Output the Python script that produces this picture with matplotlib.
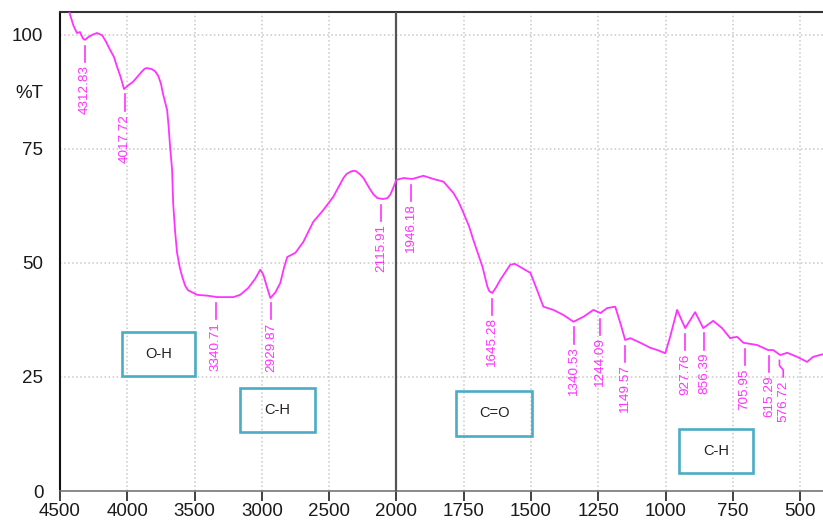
import numpy as np
import matplotlib
matplotlib.use('Agg')
import matplotlib.pyplot as plt
from matplotlib.patches import Rectangle

plt.rcParams['font.family'] = ['Liberation Sans', 'DejaVu Sans']

# FTIR spectrum, wavenumber (cm-1) vs transmittance (%T)
wavenumber = [4440, 4426, 4400, 4374, 4351, 4330, 4314, 4290, 4260, 4225, 4187, 4160,
              4128, 4100, 4076, 4050, 4024, 3990, 3957, 3925, 3890, 3870, 3853, 3820,
              3793, 3770, 3750, 3734, 3704, 3693, 3682, 3667, 3659, 3645, 3630, 3610,
              3592, 3570, 3548, 3481, 3400, 3332, 3212, 3161, 3101, 3050, 3012, 2990,
              2975, 2937, 2900, 2863, 2835, 2811, 2751, 2692, 2618, 2543, 2469, 2394,
              2370, 2340, 2320, 2300, 2270, 2245, 2193, 2170, 2141, 2100, 2067, 2045,
              2030, 2000, 1974, 1941, 1900, 1863, 1825, 1788, 1770, 1751, 1730, 1714,
              1680, 1662, 1655, 1644, 1630, 1614, 1577, 1560, 1540, 1502, 1477, 1454,
              1417, 1380, 1342, 1305, 1268, 1242, 1217, 1187, 1168, 1150, 1131, 1094,
              1057, 1031, 1001, 983, 957, 946, 927, 890, 860, 823, 790, 760,
              734, 711, 660, 619, 600, 574, 548, 511, 474, 452, 415]
transmittance = [106, 104.5, 102, 100.4, 100.6, 99.2, 98.9, 99.5, 100, 100.4, 99.9, 98.6,
                 96.7, 95.2, 93, 90.8, 88.1, 89, 89.7, 90.8, 92, 92.6, 92.7, 92.5,
                 92, 91, 89.3, 87, 83.5, 80, 75.5, 70.4, 63.1, 57, 52.2, 49,
                 47, 45, 44, 43, 42.8, 42.5, 42.5, 43, 44.5, 46.5, 48.5, 47.5,
                 46, 42.3, 43.5, 45.6, 49, 51.3, 52.2, 54.6, 59, 61.6, 64.5, 68.6,
                 69.5, 70, 70.2, 70.1, 69.4, 68.6, 66, 65, 64.2, 64, 64.2, 65,
                 66, 68.2, 68.6, 68.4, 69.1, 68.4, 67.8, 65.3, 63.5, 61, 58, 55,
                 49.1, 44.8, 43.8, 43.4, 44.6, 46.3, 49.6, 49.8, 49.1, 47.8, 44, 40.4,
                 39.7, 38.6, 37.1, 38.2, 39.7, 39, 40.1, 40.4, 36.8, 33.1, 33.5, 32.5,
                 31.4, 30.9, 30.2, 33.8, 39.7, 38.2, 35.7, 39.2, 35.7, 37.3, 35.7, 33.5,
                 33.8, 32.5, 32, 30.9, 30.9, 29.8, 30.3, 29.4, 28.3, 29.4, 30]

peaks = [4312.83, 4017.72, 3340.71, 2929.87, 2115.91, 1946.18, 1645.28, 1340.53,
         1244.09, 1149.57, 927.76, 856.39, 705.95, 615.29, 576.72]
# labels nudged sideways (cm-1) where they would collide
nudge = {576.72: -14}

# functional group boxes: label, (wn left, wn right), (%T bottom, %T top)
groups = ['O-H', 'C-H', 'C=O', 'C-H']
group_wn = [(4040, 3495), (3161, 2603), (1777, 1495), (949, 674)]
group_t = [(25.2, 34.9), (12.9, 22.6), (12.1, 21.9), (3.9, 13.6)]

xticks = [4500, 4000, 3500, 3000, 2500, 2000, 1750, 1500, 1250, 1000, 750, 500]
yticks = [0, 25, 50, 75, 100]


# above 2000 cm-1 the axis is compressed by half
def fwd(x):
    x = np.asarray(x, dtype=float)
    return np.where(x >= 2000, 2000 + (x - 2000) / 2, x)


def inv(y):
    y = np.asarray(y, dtype=float)
    return np.where(y >= 2000, 2000 + 2 * (y - 2000), y)


pink = '#ff33ff'
fig = plt.figure(figsize=(8.23, 5.24), dpi=100)
ax = fig.add_axes([60 / 823, 33 / 524, 763 / 823, 479 / 524])
ax.set_xscale('function', functions=(fwd, inv))
ax.set_xlim(4500, 415)
ax.set_ylim(0, 105)

ax.plot(wavenumber, transmittance, color=pink, lw=1.3, zorder=4,
        solid_joinstyle='round')

# peak labels hanging under the curve
wn_r = np.array(wavenumber)[::-1]
t_r = np.array(transmittance)[::-1]
for p in peaks:
    yc = np.interp(p, wn_r, t_r)
    px = p + nudge.get(p, 0)
    ax.plot([p, p, px, px], [yc - 1.3, yc - 2.4, yc - 3.4, yc - 4.9],
            color=pink, lw=1.2, zorder=4)
    ax.text(px, yc - 5.6, '%.2f' % p, rotation=90, ha='center', va='top',
            color=pink, fontsize=9.7, zorder=4)

for name, (w0, w1), (t0, t1) in zip(groups, group_wn, group_t):
    ax.add_patch(Rectangle((w0, t0), w1 - w0, t1 - t0, fill=False,
                           edgecolor='#4bacc6', lw=1.9, zorder=5))
    ax.text(inv(0.5 * (fwd(w0) + fwd(w1))), 0.5 * (t0 + t1), name,
            ha='center', va='center', fontsize=10.5, color='#222222', zorder=5)

ax.set_xticks(xticks)
ax.set_xticklabels([str(t) for t in xticks])
ax.set_yticks(yticks)
ax.set_yticks([0], minor=True)
ax.grid(True, color='#c8c8c8', linestyle=':', lw=1.1)
ax.axvline(2000, color='#555555', lw=1.6, zorder=3)

ax.tick_params(axis='x', length=7.5, width=1.3, color='#333333', pad=1,
               labelsize=13.5, labelcolor='#1a1a1a')
ax.tick_params(axis='y', which='major', length=0, pad=12,
               labelsize=13.5, labelcolor='#1a1a1a')
ax.tick_params(axis='y', which='minor', length=9.5, width=1.3, color='#111111')

ax.spines['right'].set_visible(False)
ax.spines['top'].set_color('#333333')
ax.spines['top'].set_linewidth(1.5)
ax.spines['left'].set_color('#111111')
ax.spines['left'].set_linewidth(1.5)
ax.spines['bottom'].set_color('#777777')
ax.spines['bottom'].set_linewidth(1.2)
ax.spines['bottom'].set_linestyle((0, (2, 1)))

fig.text(43 / 823, 1 - 93 / 524, '%T', ha='right', va='center',
         fontsize=13.5, color='#1a1a1a')

fig.savefig('out.png', dpi=100)
